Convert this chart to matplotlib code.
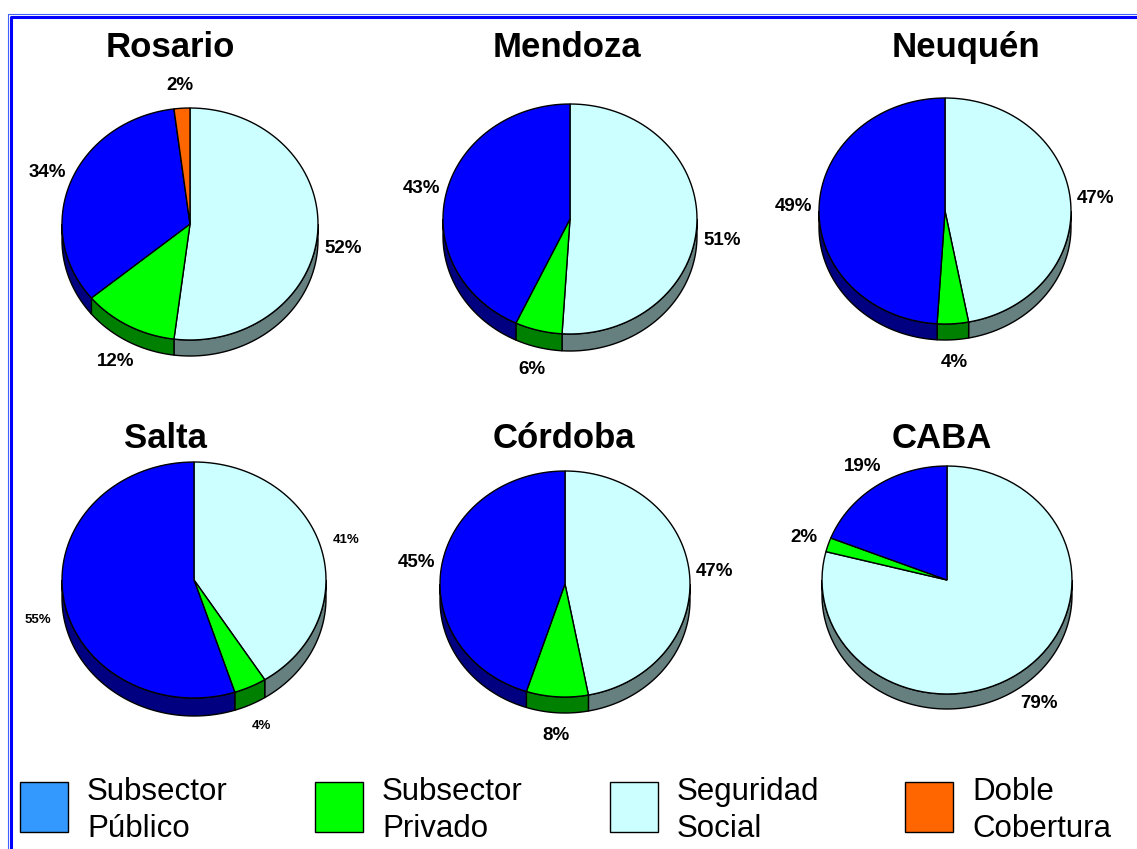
import numpy as np
import matplotlib
matplotlib.use("Agg")
import matplotlib.pyplot as plt
from matplotlib.patches import Polygon, Rectangle


CITIES = ["Rosario", "Mendoza", "Neuquén", "Salta", "Córdoba", "CABA"]
# slice order, clockwise from 12 o'clock
SEGURIDAD = [52, 51, 47, 41, 47, 79]
PRIVADO = [12, 6, 4, 4, 8, 2]
PUBLICO = [34, 43, 49, 55, 45, 19]
DOBLE = [2, 0, 0, 0, 0, 0]

LEGEND_LABELS = [
    ("Subsector", "Público"),
    ("Subsector", "Privado"),
    ("Seguridad", "Social"),
    ("Doble", "Cobertura"),
]

TOP_COLORS = ["#CCFFFF", "#00FF00", "#0000FF", "#FF6600"]
SIDE_COLORS = ["#668080", "#008000", "#000080", "#803300"]
LEGEND_COLORS = ["#3399FF", "#00FF00", "#CCFFFF", "#FF6600"]

# layout in pixels: center x, center y, radius x, radius y, depth
PIE_BOXES = [
    (190, 224, 128, 116, 16),
    (570, 219, 127, 115, 17),
    (945, 211, 126, 113, 16),
    (194, 580, 132, 118, 18),
    (565, 584, 125, 113, 16),
    (947, 580, 125, 114, 15),
]
TITLE_POS = [(170, 57), (567, 57), (966, 57), (165, 448), (564, 448), (942, 448)]
LABEL_SIZES = [13.5, 13.5, 13.5, 9.5, 13.5, 13.5]

W, H = 1137, 849


def arc(cx, cy, rx, ry, a0, a1, n=80):
    a = np.radians(np.linspace(a0, a1, n))
    return np.column_stack([cx + rx * np.cos(a), cy - ry * np.sin(a)])


def draw_pie(ax, box, values, label_size):
    cx, cy, rx, ry, depth = box
    values = np.asarray(values, dtype=float)
    spans = 360 * values / values.sum()
    starts = 90 - np.concatenate([[0], np.cumsum(spans)[:-1]])
    ends = starts - spans

    # side walls, only the front half (angles between -180 and 0)
    for i, (a0, a1) in enumerate(zip(starts, ends)):
        if values[i] == 0:
            continue
        hi = min(a0, 0)
        lo = max(a1, -180)
        if hi <= lo:
            continue
        top = arc(cx, cy, rx, ry, hi, lo)
        bottom = top[::-1] + [0, depth]
        ax.add_patch(Polygon(np.vstack([top, bottom]), closed=True,
                             facecolor=SIDE_COLORS[i], edgecolor="black", lw=1.0))

    # top faces and labels
    for i, (a0, a1) in enumerate(zip(starts, ends)):
        if values[i] == 0:
            continue
        pts = np.vstack([[cx, cy], arc(cx, cy, rx, ry, a0, a1)])
        ax.add_patch(Polygon(pts, closed=True, facecolor=TOP_COLORS[i],
                             edgecolor="black", lw=1.0))

        mid = np.radians((a0 + a1) / 2)
        lx = cx + 1.2 * rx * np.cos(mid)
        ly = cy - 1.2 * ry * np.sin(mid)
        if np.sin(mid) < 0:
            ly += depth
        ax.text(lx, ly, f"{values[i]:.0f}%", ha="center", va="center",
                fontsize=label_size, fontweight="bold")


def main():
    plt.rcParams["font.family"] = ["Liberation Sans", "DejaVu Sans"]

    fig = plt.figure(figsize=(W / 100, H / 100), dpi=100)
    ax = fig.add_axes([0, 0, 1, 1])
    ax.set_xlim(0, W)
    ax.set_ylim(H, 0)
    ax.axis("off")

    # double blue frame
    ax.plot([7.5, 7.5, W], [H, 13.5, 13.5], color="#4060FF", lw=0.8)
    ax.plot([10.5, 10.5, W], [H, 16.5, 16.5], color="#0000FF", lw=2.2)

    for k, city in enumerate(CITIES):
        values = [SEGURIDAD[k], PRIVADO[k], PUBLICO[k], DOBLE[k]]
        draw_pie(ax, PIE_BOXES[k], values, LABEL_SIZES[k])
        tx, ty = TITLE_POS[k]
        ax.text(tx, ty, city, ha="center", va="baseline",
                fontsize=25, fontweight="bold")

    for j, (line1, line2) in enumerate(LEGEND_LABELS):
        x0 = 20 + j * 295
        ax.add_patch(Rectangle((x0, 782), 48, 50, facecolor=LEGEND_COLORS[j],
                               edgecolor="black", lw=1.0))
        ax.text(x0 + 67, 800, line1, ha="left", va="baseline", fontsize=22.5)
        ax.text(x0 + 67, 837, line2, ha="left", va="baseline", fontsize=22.5)

    fig.savefig("out.png", dpi=100)
    plt.close(fig)


if __name__ == "__main__":
    main()
